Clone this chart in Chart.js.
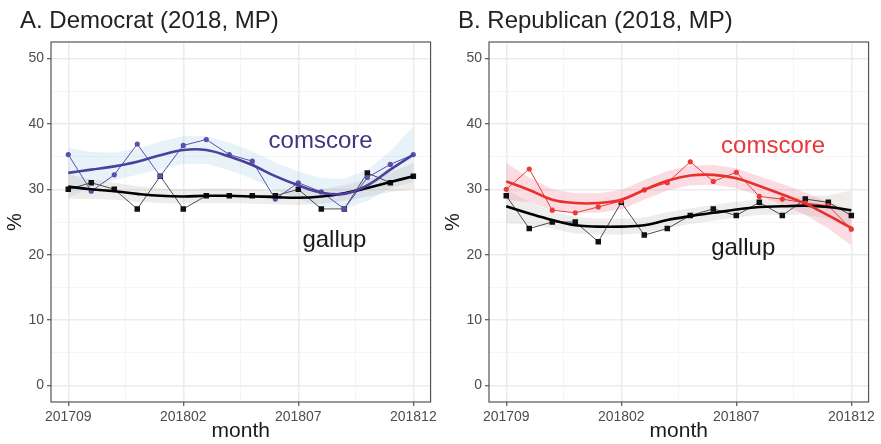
<!DOCTYPE html>
<html><head><meta charset="utf-8">
<script src="https://cdn.jsdelivr.net/npm/chart.js@4/dist/chart.umd.min.js"></script>
<style>
html,body{margin:0;padding:0;background:#fff;width:881px;height:444px;overflow:hidden}
.p{position:absolute;top:0;width:440px;height:444px}
canvas{display:block}
</style></head><body>
<div class="p" style="left:0"><canvas id="cA" width="440" height="444"></canvas></div>
<div class="p" style="left:438px"><canvas id="cB" width="440" height="444"></canvas></div>
<script>
// ---- data ----
const months = ['201709','201710','201711','201712','201801','201802','201803','201804',
                '201805','201806','201807','201808','201809','201810','201811','201812'];
const tickMonths = ['201709','201802','201807','201812'];

const demComscore = [35.3, 29.7, 32.2, 36.9, 32.0, 36.7, 37.6, 35.3, 34.3, 28.5, 31.0, 29.6, 27.0, 31.8, 33.8, 35.3];
const demGallup   = [30, 31, 30, 27, 32, 27, 29, 29, 29, 29, 30, 27, 27, 32.5, 31, 32];
const demComscoreSmooth = [32.5, 33.0, 33.5, 34.2, 35.2, 36.0, 36.0, 35.0, 33.7, 32.0, 30.6, 29.5, 29.3, 30.6, 33.0, 35.3];
const demComscoreUpper  = [36.3, 35.7, 35.6, 36.2, 37.3, 38.1, 38.1, 37.1, 35.8, 34.1, 32.7, 31.7, 31.6, 33.0, 35.8, 39.6];
const demComscoreLower  = [28.7, 30.3, 31.4, 32.2, 33.1, 33.9, 33.9, 32.9, 31.6, 29.9, 28.5, 27.3, 27.0, 28.2, 30.2, 31.1];
const demGallupSmooth = [30.4, 30.0, 29.7, 29.3, 29.0, 28.9, 29.0, 29.0, 28.9, 28.8, 28.7, 28.9, 29.4, 30.2, 31.1, 32.0];
const demGallupUpper  = [32.3, 31.5, 31.0, 30.5, 30.1, 30.0, 30.1, 30.1, 30.0, 29.9, 29.8, 30.0, 30.6, 31.5, 32.6, 34.0];
const demGallupLower  = [28.5, 28.5, 28.4, 28.1, 27.9, 27.8, 27.9, 27.9, 27.8, 27.7, 27.6, 27.8, 28.2, 28.9, 29.6, 30.0];

const repComscore = [30.0, 33.1, 26.8, 26.4, 27.3, 28.2, 29.9, 31.0, 34.2, 31.2, 32.6, 28.9, 28.5, 27.9, 27.5, 23.9];
const repGallup   = [29, 24, 25, 25, 22, 28, 23, 24, 26, 27, 26, 28, 26, 28.5, 28, 26];
const repComscoreSmooth = [31.2, 29.9, 28.4, 27.9, 27.9, 28.4, 29.9, 31.3, 32.1, 32.2, 31.7, 30.5, 29.2, 27.8, 26.0, 24.1];
const repComscoreUpper  = [34.0, 31.8, 30.0, 29.4, 29.4, 29.9, 31.4, 32.8, 33.6, 33.7, 33.2, 32.0, 30.8, 29.5, 28.0, 26.8];
const repComscoreLower  = [28.4, 28.0, 26.8, 26.4, 26.4, 26.9, 28.4, 29.8, 30.6, 30.7, 30.2, 29.0, 27.6, 26.1, 24.0, 21.4];
const repGallupSmooth = [27.4, 26.3, 25.3, 24.5, 24.3, 24.3, 24.5, 25.3, 25.9, 26.4, 26.9, 27.3, 27.4, 27.5, 27.3, 26.8];
const repGallupUpper  = [30.0, 28.0, 26.6, 25.8, 25.5, 25.5, 25.7, 26.5, 27.1, 27.6, 28.1, 28.5, 28.7, 28.9, 29.1, 29.8];
const repGallupLower  = [24.8, 24.6, 24.0, 23.2, 23.1, 23.1, 23.3, 24.1, 24.7, 25.2, 25.7, 26.1, 26.1, 26.1, 25.5, 23.8];

const yTicks = [0, 10, 20, 30, 40, 50];

// ---- rendering ----
const FAMILY = '"Liberation Sans", Arial, Helvetica, sans-serif';
Chart.defaults.font.family = FAMILY;

const pts = arr => arr.map((v, i) => ({x: i, y: v}));
const isMajorX = v => months[v] !== undefined && tickMonths.includes(months[v]);
const isMajorY = v => yTicks.includes(v);

const panelPlugin = {
  id: 'panel',
  afterDraw(chart, args, opts) {
    const {ctx, chartArea: a, scales} = chart;
    ctx.save();
    ctx.strokeStyle = '#555';
    ctx.lineWidth = 1.2;
    ctx.strokeRect(a.left, a.top, a.right - a.left, a.bottom - a.top);
    ctx.fillStyle = '#222';
    ctx.font = '24px ' + FAMILY;
    ctx.textAlign = 'left';
    ctx.textBaseline = 'alphabetic';
    ctx.fillText(opts.title, 20, 28);
    ctx.font = '24px ' + FAMILY;
    ctx.textAlign = 'center';
    for (const lab of opts.labels) {
      ctx.fillStyle = lab.color;
      ctx.fillText(lab.text, scales.x.getPixelForValue(lab.x), scales.y.getPixelForValue(lab.y));
    }
    ctx.restore();
  }
};

function makeChart(id, p) {
  const ribbon = (data, color) => ({data: pts(data), fill: '+1', backgroundColor: color, borderWidth: 0, pointRadius: 0, order: 2});
  const ribbonLow = data => ({data: pts(data), fill: false, borderWidth: 0, pointRadius: 0, order: 2});
  new Chart(document.getElementById(id), {
    type: 'line',
    data: {
      datasets: [
        {data: pts(p.cSmooth), borderColor: p.smoothColor, borderWidth: 2.6, pointRadius: 0, tension: 0.4, fill: false, order: 0},
        {data: pts(p.gSmooth), borderColor: '#000', borderWidth: 2.6, pointRadius: 0, tension: 0.4, fill: false, order: 0},
        {data: pts(p.comscore), borderColor: p.lineColor, borderWidth: 1, pointRadius: 2.6, pointBackgroundColor: p.lineColor, pointBorderWidth: 0, tension: 0, fill: false, order: 1},
        {data: pts(p.gallup), borderColor: '#3a3a3a', borderWidth: 0.9, pointStyle: 'rect', pointRadius: 3.9, pointBackgroundColor: '#111', pointBorderWidth: 0, tension: 0, fill: false, order: 1},
        ribbon(p.gUpper, 'rgba(150,135,125,0.15)'), ribbonLow(p.gLower),
        ribbon(p.cUpper, p.ribbonColor), ribbonLow(p.cLower)
      ]
    },
    options: {
      responsive: false, animation: false, events: [],
      devicePixelRatio: 1,
      layout: {padding: {top: 42, left: 0, right: 7, bottom: 0}},
      plugins: {
        legend: {display: false}, tooltip: {enabled: false},
        filler: {drawTime: 'beforeDatasetsDraw'},
        panel: {title: p.title, labels: p.labels}
      },
      scales: {
        x: {
          type: 'linear', min: -0.75, max: 15.75,
          afterBuildTicks: s => { s.ticks = [0, 2.5, 5, 7.5, 10, 12.5, 15].map(v => ({value: v})); },
          afterFit: s => { s.height = 42; },
          ticks: {autoSkip: false, maxRotation: 0, color: '#4d4d4d', font: {size: 14}, padding: 3,
                  callback: v => isMajorX(v) ? months[v] : ''},
          grid: {color: c => isMajorX(c.tick && c.tick.value) ? '#ebebeb' : '#f3f3f3',
                 lineWidth: c => isMajorX(c.tick && c.tick.value) ? 1.5 : 0.8,
                 tickColor: c => isMajorX(c.tick && c.tick.value) ? '#333' : 'rgba(0,0,0,0)',
                 tickLength: 4, tickWidth: 1},
          border: {display: false},
          title: {display: true, text: 'month', color: '#1a1a1a', font: {size: 21}, padding: {top: 0, bottom: 0}}
        },
        y: {
          type: 'linear', min: -2.5, max: 52.5,
          afterBuildTicks: s => { s.ticks = [0, 5, 10, 15, 20, 25, 30, 35, 40, 45, 50].map(v => ({value: v})); },
          afterFit: s => { s.width = 51; },
          ticks: {autoSkip: false, color: '#4d4d4d', font: {size: 14}, padding: 3,
                  callback: v => isMajorY(v) ? String(v) : ''},
          grid: {color: c => isMajorY(c.tick && c.tick.value) ? '#ebebeb' : '#f3f3f3',
                 lineWidth: c => isMajorY(c.tick && c.tick.value) ? 1.5 : 0.8,
                 tickColor: c => isMajorY(c.tick && c.tick.value) ? '#333' : 'rgba(0,0,0,0)',
                 tickLength: 4, tickWidth: 1},
          border: {display: false},
          title: {display: true, text: '%', color: '#1a1a1a', font: {size: 20}, padding: {top: 3, bottom: 0}}
        }
      }
    },
    plugins: [panelPlugin]
  });
}

makeChart('cA', {
  title: 'A. Democrat (2018, MP)',
  comscore: demComscore, gallup: demGallup,
  cSmooth: demComscoreSmooth, cUpper: demComscoreUpper, cLower: demComscoreLower,
  gSmooth: demGallupSmooth, gUpper: demGallupUpper, gLower: demGallupLower,
  lineColor: '#5b50a8', smoothColor: '#4d3f9e', ribbonColor: 'rgba(110,175,220,0.17)',
  labels: [{text: 'comscore', x: 10.97, y: 36.3, color: '#3b3680'},
           {text: 'gallup', x: 11.57, y: 21.2, color: '#1a1a1a'}]
});
makeChart('cB', {
  title: 'B. Republican (2018, MP)',
  comscore: repComscore, gallup: repGallup,
  cSmooth: repComscoreSmooth, cUpper: repComscoreUpper, cLower: repComscoreLower,
  gSmooth: repGallupSmooth, gUpper: repGallupUpper, gLower: repGallupLower,
  lineColor: '#ec3b36', smoothColor: '#e8302c', ribbonColor: 'rgba(238,110,140,0.24)',
  labels: [{text: 'comscore', x: 11.6, y: 35.5, color: '#e8363a'},
           {text: 'gallup', x: 10.3, y: 20.0, color: '#1a1a1a'}]
});
</script>
</body></html>
